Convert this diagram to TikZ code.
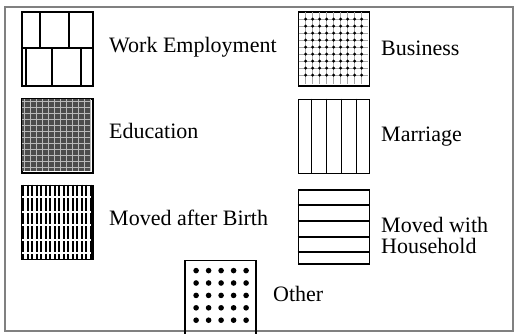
\documentclass[tikz,border=0pt]{standalone}
\usepackage{fontspec}
\setmainfont{Liberation Serif}
\tikzset{
  swatch/.style={draw, line width=1.8pt, minimum width=71pt, minimum height=74pt, inner sep=0pt},
  legendtext/.style={anchor=west, inner sep=0pt, align=left, font=\fontsize{22}{21}\selectfont},
  patline/.style={line width=1.6pt}
}
\begin{document}
\begin{tikzpicture}[x=1pt, y=-1pt]
\useasboundingbox (0,0) rectangle (517,333);
\draw[gray, line width=1.5pt] (5,7) rectangle (513,331);

% swatches
\node[swatch] (work) at (57.5,49) {};
\node[swatch] (busi) at (334,49) {};
\node[swatch] (educ) at (57.5,136) {};
\node[swatch] (marr) at (334,136.5) {};
\node[swatch] (birth) at (57.5,222.5) {};
\node[swatch] (house) at (334,227) {};
\node[swatch] (other) at (220.5,297.5) {};

% fill patterns, local coordinates from the north west corner
\begin{scope}[shift={(work.north west)}, patline]
  \draw (0,37) -- (71,37);
  \foreach \x in {19,48} \draw (\x,0) -- (\x,37);
  \foreach \x in {5,31,60} \draw (\x,37) -- (\x,74);
\end{scope}
\begin{scope}[shift={(busi.north west)}]
  \foreach \i in {0,...,8} {
    \draw[gray!70, line width=0.6pt] (8+7*\i,1) -- (8+7*\i,73);
    \draw[gray!70, line width=0.6pt] (1,8+7*\i) -- (70,8+7*\i);
  }
  \foreach \i in {0,...,8} \foreach \j in {0,...,8}
    \fill (8+7*\i,8+7*\j) circle (1.7pt);
\end{scope}
\begin{scope}[shift={(educ.north west)}]
  \fill[black!70] (0.8,0.8) rectangle (70.2,73.2);
  \foreach \i in {0,...,11} {
    \draw[gray!55, line width=0.8pt] (3+6*\i,1) -- (3+6*\i,73);
    \draw[gray!55, line width=0.8pt] (1,3+6*\i) -- (70,3+6*\i);
  }
\end{scope}
\begin{scope}[shift={(marr.north west)}, patline]
  \foreach \x in {14,29,44,59} \draw (\x,0) -- (\x,74);
\end{scope}
\begin{scope}[shift={(birth.north west)}]
  \foreach \i in {0,...,15} \draw[line width=2.2pt] (2+4.5*\i,0) -- (2+4.5*\i,74);
  \foreach \y in {12,27,40,55,68} \draw[white, line width=2.2pt] (0.9,\y) -- (70.1,\y);
\end{scope}
\begin{scope}[shift={(house.north west)}, patline]
  \foreach \y in {16,32,48,63} \draw (0,\y) -- (71,\y);
\end{scope}
\begin{scope}[shift={(other.north west)}]
  \foreach \i in {0,...,4} \foreach \j in {0,...,4}
    \fill (12+12.5*\i,11+12.4*\j) circle (2.8pt);
\end{scope}

% labels
\node[legendtext] (tw) at (109,47) {Work Employment};
\node[legendtext] (tb) at (381,48) {Business};
\node[legendtext] (te) at (109,131) {Education};
\node[legendtext] (tm) at (381,137) {Marriage};
\node[legendtext] (tbi) at (109,218) {Moved after Birth};
\node[legendtext] (th) at (381,235) {Moved with\\Household};
\node[legendtext] (to) at (273,294) {Other};
\end{tikzpicture}
\end{document}
